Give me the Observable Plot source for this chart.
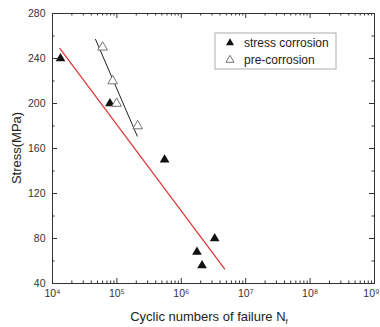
<!DOCTYPE html>
<html>
<head>
<meta charset="utf-8">
<script src="https://cdn.jsdelivr.net/npm/d3@7"></script>
<script src="https://cdn.jsdelivr.net/npm/@observablehq/plot@0.6"></script>
<style>
  body { margin: 0; background: #fff; }
  #chart svg { display: block; }
</style>
</head>
<body>
<div id="chart"></div>
<script>
// S–N data: cycles to failure vs. applied stress (MPa)
const stressCorrosionCycles = [1.33e4, 7.8e4, 5.5e5, 1.75e6, 2.1e6, 3.3e6];
const stressCorrosionStress = [240, 200, 150, 68, 56, 80];
const preCorrosionCycles = [6.0e4, 8.6e4, 9.9e4, 2.1e5];
const preCorrosionStress = [250, 220, 200, 180];

// Fitted lines (end points)
const stressFitCycles = [1.3e4, 4.7e6];
const stressFitStress = [249, 53];
const preFitCycles = [4.66e4, 2.07e5];
const preFitStress = [257, 171];

// Axis ticks
const decadeTicks = [1e4, 1e5, 1e6, 1e7, 1e8, 1e9];
const decadeExponents = ["⁴", "⁵", "⁶", "⁷", "⁸", "⁹"];
const minorCycleTicks = decadeTicks.slice(0, -1).flatMap(d => [2, 3, 4, 5, 6, 7, 8, 9].map(m => d * m));
const stressTicks = [40, 80, 120, 160, 200, 240, 280];
const stressMinorTicks = [60, 100, 140, 180, 220, 260];

const seriesNames = ["stress corrosion", "pre-corrosion"];
const xTitle = "Cyclic numbers of failure N";
const xTitleSub = "f";
const yTitle = "Stress(MPa)";

const W = 380, H = 327;
const mL = 52, mR = 6, mT = 13, mB = 44;
const innerW = W - mL - mR, innerH = H - mT - mB;
const font = "'Liberation Sans', Arial, sans-serif";
const ink = "#333";

const stressPts = stressCorrosionCycles.map((c, i) => ({cycles: c, stress: stressCorrosionStress[i]}));
const prePts = preCorrosionCycles.map((c, i) => ({cycles: c, stress: preCorrosionStress[i]}));
const stressFit = stressFitCycles.map((c, i) => ({cycles: c, stress: stressFitStress[i]}));
const preFit = preFitCycles.map((c, i) => ({cycles: c, stress: preFitStress[i]}));

// Inward-pointing ticks on all four sides of the frame
const inwardTicks = (majorLen, minorLen) => [
  Plot.tickX(decadeTicks, {x: d => d, stroke: ink, insetTop: innerH - majorLen}),
  Plot.tickX(minorCycleTicks, {x: d => d, stroke: ink, insetTop: innerH - minorLen}),
  Plot.tickX(decadeTicks, {x: d => d, stroke: ink, insetBottom: innerH - majorLen}),
  Plot.tickX(minorCycleTicks, {x: d => d, stroke: ink, insetBottom: innerH - minorLen}),
  Plot.tickY(stressTicks, {y: d => d, stroke: ink, insetRight: innerW - majorLen}),
  Plot.tickY(stressMinorTicks, {y: d => d, stroke: ink, insetRight: innerW - minorLen}),
  Plot.tickY(stressTicks, {y: d => d, stroke: ink, insetLeft: innerW - majorLen}),
  Plot.tickY(stressMinorTicks, {y: d => d, stroke: ink, insetLeft: innerW - minorLen})
];

const chart = Plot.plot({
  width: W,
  height: H,
  marginLeft: mL,
  marginRight: mR,
  marginTop: mT,
  marginBottom: mB,
  style: {fontFamily: font, color: ink, background: "#fff", overflow: "visible"},
  x: {type: "log", domain: [1e4, 1e9]},
  y: {domain: [40, 280]},
  marks: [
    Plot.frame({stroke: ink, strokeWidth: 1}),
    ...inwardTicks(5, 2.5),
    Plot.axisX({
      ticks: decadeTicks,
      tickSize: 0,
      tickPadding: 6,
      fontSize: 10.5,
      tickFormat: d => "10" + decadeExponents[decadeTicks.indexOf(d)],
      label: null
    }),
    Plot.axisY({
      ticks: stressTicks,
      tickSize: 0,
      tickPadding: 7,
      fontSize: 10.5,
      label: null
    }),
    Plot.line(stressFit, {x: "cycles", y: "stress", stroke: "#e03a3a", strokeWidth: 1.3}),
    Plot.line(preFit, {x: "cycles", y: "stress", stroke: "#222", strokeWidth: 1}),
    Plot.dot(stressPts, {x: "cycles", y: "stress", symbol: "triangle", r: 3.6, fill: "#111", stroke: "none"}),
    Plot.dot(prePts, {x: "cycles", y: "stress", symbol: "triangle", r: 3.6, fill: "#fff", stroke: "#666", strokeWidth: 0.9})
  ]
});

document.getElementById("chart").append(chart);

const svg = d3.select(chart);

// Keep the last decade label inside the page edge
svg.selectAll("[aria-label='x-axis tick label'] text")
  .filter((d, i, nodes) => i === nodes.length - 1)
  .attr("text-anchor", "end")
  .attr("dx", 5);

// Axis titles
svg.append("text")
  .attr("x", (mL + W - mR) / 2 - 4)
  .attr("y", H - 6)
  .attr("text-anchor", "middle")
  .attr("font-family", font)
  .attr("font-size", 13)
  .attr("fill", "#222")
  .text(xTitle)
  .append("tspan")
  .attr("font-size", 8)
  .attr("dy", 3)
  .text(xTitleSub);

svg.append("text")
  .attr("transform", `translate(21,${mT + innerH / 2}) rotate(-90)`)
  .attr("text-anchor", "middle")
  .attr("font-family", font)
  .attr("font-size", 13)
  .attr("fill", "#222")
  .text(yTitle);

// Legend box
const lg = svg.append("g").attr("transform", "translate(215,33)");
lg.append("rect")
  .attr("width", 121).attr("height", 36)
  .attr("fill", "#fff").attr("stroke", "#999").attr("stroke-width", 0.8);
const tri = d3.symbol(d3.symbolTriangle, Math.PI * 3 * 3)();
const legendStyles = [
  {fill: "#111", stroke: "none"},
  {fill: "#fff", stroke: "#666"}
];
seriesNames.forEach((name, i) => {
  const y = 10 + i * 17;
  lg.append("path")
    .attr("d", tri)
    .attr("transform", `translate(15,${y})`)
    .attr("fill", legendStyles[i].fill)
    .attr("stroke", legendStyles[i].stroke)
    .attr("stroke-width", 0.9);
  lg.append("text")
    .attr("x", 29).attr("y", y)
    .attr("dy", "0.35em")
    .attr("text-anchor", "start")
    .attr("font-family", font)
    .attr("font-size", 12)
    .attr("fill", "#222")
    .text(name);
});
</script>
</body>
</html>
